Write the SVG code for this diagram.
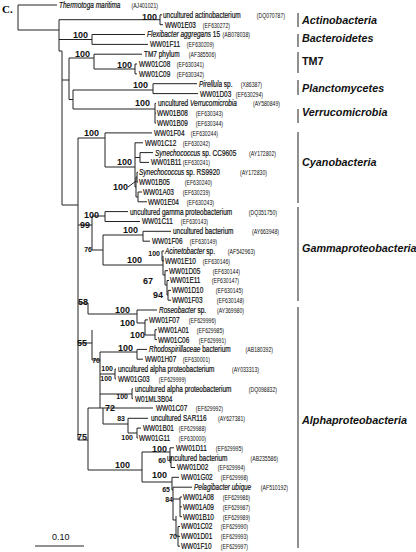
<svg xmlns="http://www.w3.org/2000/svg" width="416" height="552" viewBox="0 0 416 552">
<style>
.t{font-family:"Liberation Sans",Arial,sans-serif;font-size:8.3px;fill:#111;stroke:#111;stroke-width:0.2}
.a{font-family:"Liberation Sans",Arial,sans-serif;font-size:6.6px;fill:#111;text-anchor:end}
.i{font-style:italic}
.b{font-family:"Liberation Sans",Arial,sans-serif;font-weight:bold;font-size:9px;text-anchor:end;fill:#111}
.s{font-size:7px}
.g{font-family:"Liberation Sans",Arial,sans-serif;font-weight:bold;font-style:italic;font-size:10.8px;fill:#111}
.tree path{fill:none;stroke:#222;stroke-width:1}
.bar{stroke:#555;stroke-width:1.3}
</style>
<rect width="416" height="552" fill="#fff"/>
<text x="2" y="13" style="font-family:'Liberation Serif',serif;font-weight:bold;font-size:11px">C.</text>
<g id="connectors" class="tree">
<path d="M18,5V30M18,5H57M18,30H59M59,19.7V51M59,51H62M62,51V205M59,19.7H160M160,14.8V24.7M160,14.8H162M160,24.7H163M59,39.5H92M92,34.5V44.4M92,34.5H145M92,44.4H148M62,80H69M69,58V99.5M69,58H94M94,54.2V69M94,54.2H142M94,69H135M135,64V73.9M135,64H137M135,73.9H137M69,99.5H73M73,90V109M73,90H153M153,83.7V93.6M153,83.7H197M153,93.6H198M73,109H155M155,103.4V123.1M155,103.4H156M155,113.2H156M155,123.1H156"/>
<path d="M62,205H78M78,138V440M78,138H105M105,132.9V167M105,132.9H152M105,167H135M135,142.8V187M135,142.8H143M135,157.5H140M140,152.6V162.4M140,152.6H153M140,162.4H149M135,187H136M136,177V197M136,177H137M137,172.3V182.1M137,172.3H138M137,182.1H138M136,197H138M138,192V201.8M138,192H142M138,201.8H147M128,187L136,181"/>
<path d="M78,225H92M92,216V250M92,216H105M105,211.6V221.5M105,211.6H128M105,221.5H140M92,250H103M103,235V265M103,235H143M143,231.3V241.2M143,231.3H171M143,241.2H150M103,265H163M163,256V275M162,251V260.8M162,251H164M162,260.8H164M163,275H165M165,270.7V285M165,270.7H168M165,285H167M167,280.5V295M167,280.5H169M167,295H168M168,290.4V300.2M168,290.4H171M168,300.2H171"/>
<path d="M78,303H88M88,303V314M88,314H137M137,310V323M137,310H157M137,323H145M145,319.9V335M145,319.9H148M145,335H155M155,329.7V339.6M155,329.7H157M155,339.6H157M78,343H92M92,330V360M92,360H100M100,352V408M100,352H137M137,349.4V359.2M137,349.4H147M137,359.2H143M100,374H115M115,369.1V378.9M115,369.1H116M115,378.9H116M100,394H132M132,388.8V398.6M132,388.8H133M132,398.6H133M78,440H88M88,408V470M88,408H103M103,408V424M103,408H153M103,424H128M128,418.3V433M128,418.3H148M128,433H137M137,428.1V438M137,428.1H141M137,438H138"/>
<path d="M88,470H142M142,452V482M142,452H170M170,447.8V462.5M170,447.8H174M170,462.5H171M171,457.6V467.5M171,457.6H172M171,467.5H175M142,482H172M172,477.3V490M172,477.3H179M172,490H173M173,487.2V520M173,487.2H192M173,499H180M180,497V516.7M180,497H182M180,506.8H182M180,516.7H182M173,520H176M176,516V536M176,536H178M178,526.5V546.2M178,526.5H180M178,536.4H180M178,546.2H180"/>
</g>
<g id="leaves" transform="scale(0.78,1)">
<text class="t" x="75.64" y="8"><tspan class="i">Thermotoga maritima</tspan></text><text class="a" x="202.56" y="8">(AJ401021)</text>
<text class="t" x="208.97" y="18">uncultured actinobacterium</text><text class="a" x="365.38" y="18">(DQ070787)</text>
<text class="t" x="211.54" y="27.7">WW01E03</text><text class="a" x="294.87" y="27.7">(EF630272)</text>
<text class="t" x="188.46" y="37.5"><tspan class="i">Flexibacter aggregans</tspan> 15</text><text class="a" x="320.51" y="37.5">(AB078038)</text>
<text class="t" x="192.31" y="47.4">WW01F11</text><text class="a" x="274.36" y="47.4">(EF630209)</text>
<text class="t" x="184.62" y="57.2">TM7 phylum</text><text class="a" x="276.92" y="57.2">(AF385506)</text>
<text class="t" x="178.21" y="67">WW01C08</text><text class="a" x="261.54" y="67">(EF630341)</text>
<text class="t" x="178.21" y="76.9">WW01C09</text><text class="a" x="261.54" y="76.9">(EF630342)</text>
<text class="t" x="255.13" y="86.7"><tspan class="i">Pirellula</tspan> sp.</text><text class="a" x="335.90" y="86.7">(X86387)</text>
<text class="t" x="256.41" y="96.6">WW01D03</text><text class="a" x="337.18" y="96.6">(EF630294)</text>
<text class="t" x="202.56" y="106.4">uncultured <tspan class="i">Verrucomicrobia</tspan></text><text class="a" x="358.97" y="106.4">(AY580849)</text>
<text class="t" x="201.28" y="116.2">WW01B08</text><text class="a" x="285.90" y="116.2">(EF630343)</text>
<text class="t" x="201.28" y="126.1">WW01B09</text><text class="a" x="285.90" y="126.1">(EF630344)</text>
<text class="t" x="197.44" y="135.9">WW01F04</text><text class="a" x="279.49" y="135.9">(EF630244)</text>
<text class="t" x="185.90" y="145.8">WW01C12</text><text class="a" x="269.23" y="145.8">(EF630242)</text>
<text class="t" x="198.72" y="155.6"><tspan class="i">Synechococcus</tspan> sp. CC9605</text><text class="a" x="353.85" y="155.6">(AY172802)</text>
<text class="t" x="193.59" y="165.4">WW01B11</text><text class="a" x="269.23" y="165.4">(EF630241)</text>
<text class="t" x="178.21" y="175.3"><tspan class="i">Synechococcus</tspan> sp. RS9920</text><text class="a" x="342.31" y="175.3">(AY172830)</text>
<text class="t" x="178.21" y="185.1">WW01B05</text><text class="a" x="271.79" y="185.1">(EF630240)</text>
<text class="t" x="183.33" y="195">WW01A03</text><text class="a" x="269.23" y="195">(EF630239)</text>
<text class="t" x="189.74" y="204.8">WW01E04</text><text class="a" x="274.36" y="204.8">(EF630243)</text>
<text class="t" x="166.67" y="214.6">uncultured gamma proteobacterium</text><text class="a" x="355.13" y="214.6">(DQ351750)</text>
<text class="t" x="182.05" y="224.5">WW01C11</text><text class="a" x="266.67" y="224.5">(EF630143)</text>
<text class="t" x="221.79" y="234.3">uncultured bacterium</text><text class="a" x="357.69" y="234.3">(AY663948)</text>
<text class="t" x="194.87" y="244.2">WW01F06</text><text class="a" x="278.21" y="244.2">(EF630149)</text>
<text class="t" x="211.54" y="254"><tspan class="i">Acinetobacter</tspan> sp.</text><text class="a" x="326.92" y="254">(AF542963)</text>
<text class="t" x="211.54" y="263.8">WW01E10</text><text class="a" x="294.87" y="263.8">(EF630146)</text>
<text class="t" x="216.67" y="273.7">WW01D05</text><text class="a" x="307.69" y="273.7">(EF630144)</text>
<text class="t" x="217.95" y="283.5">WW01E11</text><text class="a" x="306.41" y="283.5">(EF630147)</text>
<text class="t" x="220.51" y="293.4">WW01D10</text><text class="a" x="311.54" y="293.4">(EF630145)</text>
<text class="t" x="220.51" y="303.2">WW01F03</text><text class="a" x="312.82" y="303.2">(EF630148)</text>
<text class="t" x="203.85" y="313"><tspan class="i">Roseobacter</tspan> sp.</text><text class="a" x="312.82" y="313">(AY369980)</text>
<text class="t" x="191.03" y="322.9">WW01F07</text><text class="a" x="276.92" y="322.9">(EF629996)</text>
<text class="t" x="202.56" y="332.7">WW01A01</text><text class="a" x="287.18" y="332.7">(EF629985)</text>
<text class="t" x="202.56" y="342.6">WW01C06</text><text class="a" x="289.74" y="342.6">(EF629991)</text>
<text class="t" x="191.03" y="352.4"><tspan class="i">Rhodospirillaceae</tspan> bacterium</text><text class="a" x="350.00" y="352.4">(AB180392)</text>
<text class="t" x="185.90" y="362.2">WW01H07</text><text class="a" x="269.23" y="362.2">(EF630001)</text>
<text class="t" x="151.28" y="372.1">uncultured alpha proteobacterium</text><text class="a" x="332.05" y="372.1">(AY033313)</text>
<text class="t" x="151.28" y="381.9">WW01G03</text><text class="a" x="238.46" y="381.9">(EF629999)</text>
<text class="t" x="173.08" y="391.8">uncultured alpha proteobacterium</text><text class="a" x="355.13" y="391.8">(DQ098832)</text>
<text class="t" x="173.08" y="401.6">W01ML3B04</text>
<text class="t" x="200.00" y="411.4">WW01C07</text><text class="a" x="285.90" y="411.4">(EF629992)</text>
<text class="t" x="193.59" y="421.3">uncultured SAR116</text><text class="a" x="314.10" y="421.3">(AY627381)</text>
<text class="t" x="183.33" y="431.1">WW01B01</text><text class="a" x="264.10" y="431.1">(EF629988)</text>
<text class="t" x="178.21" y="441">WW01G11</text><text class="a" x="264.10" y="441">(EF630000)</text>
<text class="t" x="225.64" y="450.8">WW01D11</text><text class="a" x="311.54" y="450.8">(EF629995)</text>
<text class="t" x="214.10" y="460.6">uncultured bacterium</text><text class="a" x="356.41" y="460.6">(AB235586)</text>
<text class="t" x="226.92" y="470.5">WW01D02</text><text class="a" x="314.10" y="470.5">(EF629994)</text>
<text class="t" x="232.05" y="480.3">WW01G02</text><text class="a" x="317.95" y="480.3">(EF629998)</text>
<text class="t" x="248.72" y="490.2"><tspan class="i">Pelagibacter ubique</tspan></text><text class="a" x="369.23" y="490.2">(AF510192)</text>
<text class="t" x="234.62" y="500">WW01A08</text><text class="a" x="320.51" y="500">(EF629986)</text>
<text class="t" x="234.62" y="509.8">WW01A09</text><text class="a" x="320.51" y="509.8">(EF629987)</text>
<text class="t" x="234.62" y="519.7">WW01B10</text><text class="a" x="320.51" y="519.7">(EF629989)</text>
<text class="t" x="232.05" y="529.5">WW01C02</text><text class="a" x="317.95" y="529.5">(EF629990)</text>
<text class="t" x="232.05" y="539.4">WW01D01</text><text class="a" x="317.95" y="539.4">(EF629993)</text>
<text class="t" x="232.05" y="549.2">WW01F10</text><text class="a" x="317.95" y="549.2">(EF629997)</text>
</g>
<g id="support">
<text class="b" x="157" y="20">100</text>
<text class="b" x="88" y="38">100</text>
<text class="b" x="90" y="57">100</text>
<text class="b" x="132" y="68">100</text>
<text class="b" x="148" y="88">100</text>
<text class="b" x="150" y="106">100</text>
<text class="b" x="99" y="136">100</text>
<text class="b" x="132" y="165">100</text>
<text class="b" x="128" y="190">100</text>
<text class="b" x="99" y="218">100</text>
<text class="b" x="90" y="228">99</text>
<text class="b" x="138" y="233">100</text>
<text class="b s" x="92" y="252">76</text>
<text class="b s" x="160" y="256">100</text>
<text class="b" x="142" y="263">100</text>
<text class="b" x="153" y="284">67</text>
<text class="b" x="163" y="298">94</text>
<text class="b" x="88" y="305">58</text>
<text class="b" x="130" y="313">100</text>
<text class="b" x="135" y="326">100</text>
<text class="b" x="145" y="338">100</text>
<text class="b" x="87" y="346">55</text>
<text class="b" x="133" y="351">100</text>
<text class="b s" x="100" y="363">70</text>
<text class="b s" x="113" y="371">100</text>
<text class="b s" x="112" y="381">100</text>
<text class="b s" x="128" y="399">100</text>
<text class="b" x="115" y="411">72</text>
<text class="b s" x="125" y="421">83</text>
<text class="b s" x="133" y="440">100</text>
<text class="b" x="87" y="440">75</text>
<text class="b" x="167" y="451.5">100</text>
<text class="b s" x="166" y="463">60</text>
<text class="b" x="130" y="468">100</text>
<text class="b" x="167" y="478">100</text>
<text class="b s" x="170" y="492">65</text>
<text class="b s" x="173" y="502">84</text>
<text class="b s" x="177" y="539">70</text>
</g>
<g id="groups">
<path class="bar" d="M298,13V27M298,34V47M298,52V73M298,80V95M298,109V123M298,132V203M298,207V301M298,307V548"/>
<text class="g" x="302" y="24">Actinobacteria</text>
<text class="g" x="302" y="42">Bacteroidetes</text>
<text class="g" x="302" y="65" style="font-style:normal">TM7</text>
<text class="g" x="302" y="92">Planctomycetes</text>
<text class="g" x="302" y="116">Verrucomicrobia</text>
<text class="g" x="302" y="166">Cyanobacteria</text>
<text class="g" x="302" y="252">Gammaproteobacteria</text>
<text class="g" x="302" y="424">Alphaproteobacteria</text>
</g>
<g id="scale">
<path d="M35,546H84" stroke="#222" stroke-width="1"/>
<text x="52" y="540" style="font-family:'Liberation Sans',Arial,sans-serif;font-size:9px;fill:#111">0.10</text>
</g>
</svg>
